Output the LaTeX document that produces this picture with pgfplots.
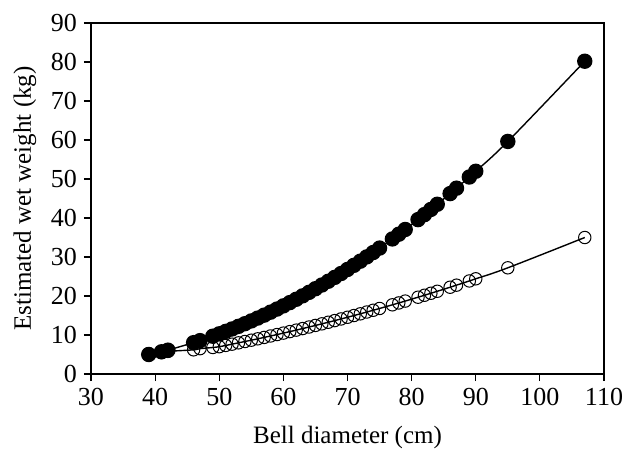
\documentclass[border=0pt]{standalone}
\usepackage{fontspec}
\setmainfont{Liberation Serif}
\usepackage{pgfplots}
\pgfplotsset{compat=1.18}

\begin{document}
\begin{tikzpicture}
\begin{axis}[
    scale only axis,
    width=256.5pt, height=175.5pt,
    xmin=30, xmax=110, ymin=0, ymax=90,
    xtick={30,40,...,110},
    ytick={0,10,...,90},
    tick pos=left,
    tick align=outside,
    major tick length=3.5pt,
    axis line style={line width=1pt},
    every tick/.style={black, line width=0.6pt},
    /pgf/number format/assume math mode=true,
    ticklabel style={font=\fontsize{13}{15}\selectfont},
    label style={font=\fontsize{12.5}{15}\selectfont},
    xlabel={Bell diameter (cm)},
    ylabel={Estimated wet weight (kg)},
    xlabel style={at={(axis description cs:0.5,-0.1795)}, anchor=center},
    ylabel style={at={(axis description cs:-0.1287,0.5)}, anchor=center},
    clip=false,
]
% open circles
\addplot[black, line width=0.7pt, smooth, tension=0.6, mark=o,
    mark size=3.1pt, mark options={line width=0.5pt, solid}] coordinates {
(39,5.2)(41,5.5)(42,5.8)(46,6.2)(47,6.5)(49,6.8)(50,7.0)(51,7.32)(52,7.65)
(53,7.99)(54,8.33)(55,8.67)(56,9.02)(57,9.38)(58,9.75)(59,10.11)(60,10.49)
(61,10.87)(62,11.25)(63,11.65)(64,12.05)(65,12.45)(66,12.86)(67,13.27)
(68,13.69)(69,14.12)(70,14.55)(71,14.99)(72,15.43)(73,15.89)(74,16.34)
(75,16.80)(77,17.74)(78,18.22)(79,18.70)(81,19.69)(82,20.19)(83,20.70)
(84,21.21)(86,22.25)(87,22.78)(89,23.86)(90,24.41)(95,27.23)(107,35.0)};
% filled circles
\addplot[black, line width=0.7pt, smooth, tension=0.6, mark=*,
    mark size=3.5pt, mark options={fill=black, solid}] coordinates {
(39,5.0)(41,5.70)(42,6.11)(46,8.04)(47,8.56)(49,9.69)(50,10.30)(51,10.92)
(52,11.55)(53,12.22)(54,12.90)(55,13.61)(56,14.34)(57,15.09)(58,15.86)
(59,16.65)(60,17.47)(61,18.31)(62,19.16)(63,20.04)(64,20.94)(65,21.87)
(66,22.82)(67,23.78)(68,24.77)(69,25.77)(70,26.81)(71,27.86)(72,28.93)
(73,30.03)(74,31.15)(75,32.29)(77,34.63)(78,35.84)(79,37.06)(81,39.59)
(82,40.87)(83,42.19)(84,43.52)(86,46.26)(87,47.65)(89,50.51)(90,51.98)
(95,59.63)(107,80.2)};
\end{axis}
\path (current axis.south west) ++(-45.5pt,-37pt) coordinate (bbA);
\path (current axis.north east) ++(15pt,11.5pt) coordinate (bbB);
\pgfresetboundingbox
\path (bbA) rectangle (bbB);
\end{tikzpicture}
\end{document}
